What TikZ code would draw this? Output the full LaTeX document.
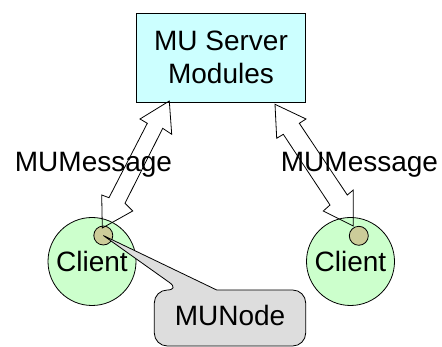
\documentclass[tikz,border=0pt]{standalone}
\usepackage{fontspec}
\setmainfont{Liberation Sans}
\usetikzlibrary{calc}

\definecolor{servercyan}{HTML}{CCFFFF}
\definecolor{clientgreen}{HTML}{CCFFCC}
\definecolor{nodetan}{HTML}{CCCC99}
\definecolor{calloutgray}{HTML}{DDDDDD}

\begin{document}
\begin{tikzpicture}[x=1pt, y=-1pt, line width=0.8pt,
  font=\fontsize{28}{33}\selectfont,
  client/.style={circle, draw, fill=clientgreen, minimum size=88pt, inner sep=0pt},
  munode/.style={circle, draw, fill=nodetan, minimum size=19pt, inner sep=0pt},
  msgarrow/.style={draw, line join=miter}]
\useasboundingbox (0,0) rectangle (442,347);

\node[draw, fill=servercyan, minimum width=169pt, minimum height=89pt, align=center, inner sep=0pt] (server) at (221,57.5) {MU Server\\Modules};

\node[client] (clientL) at (92,261.5) {};
\node[client] (clientR) at (350.5,261.5) {};
\node (clientLtext) at (clientL.center) {Client};
\node (clientRtext) at (clientR.center) {Client};
\node[munode] (dotL) at (103.3,235.5) {};
\node[munode] (dotR) at (358.8,235.8) {};

% block arrows between server and the client nodes
\draw[msgarrow] (169.3,101) -- (171.7,134.3) -- (162.7,128.3) -- (125,203.3) -- (132.7,211)
  -- (102.3,228) -- (101.7,195) -- (109,197.7) -- (147.3,123.3) -- (140,119) -- cycle;
\draw[msgarrow] (275,104.3) -- (306,119) -- (299.3,123.3) -- (347.3,195) -- (353.3,190)
  -- (353.3,226) -- (323.3,211) -- (330,205) -- (283.3,134.3) -- (276.7,138.3) -- cycle;

\node[anchor=base] (msgL) at (93.5,171.7) {MUMessage};
\node[anchor=base] (msgR) at (359.5,171.7) {MUMessage};

% callout for the MU node
\draw[fill=calloutgray] (154.3,318) [rounded corners=13pt] -- (154.3,290) -- (180,290)
  [sharp corners] -- (dotL.center) -- (216.7,290)
  [rounded corners=13pt] -- (305.7,290) -- (305.7,346) -- (154.3,346) -- cycle;
\node (munodetext) at (230,315) {MUNode};
\end{tikzpicture}
\end{document}
